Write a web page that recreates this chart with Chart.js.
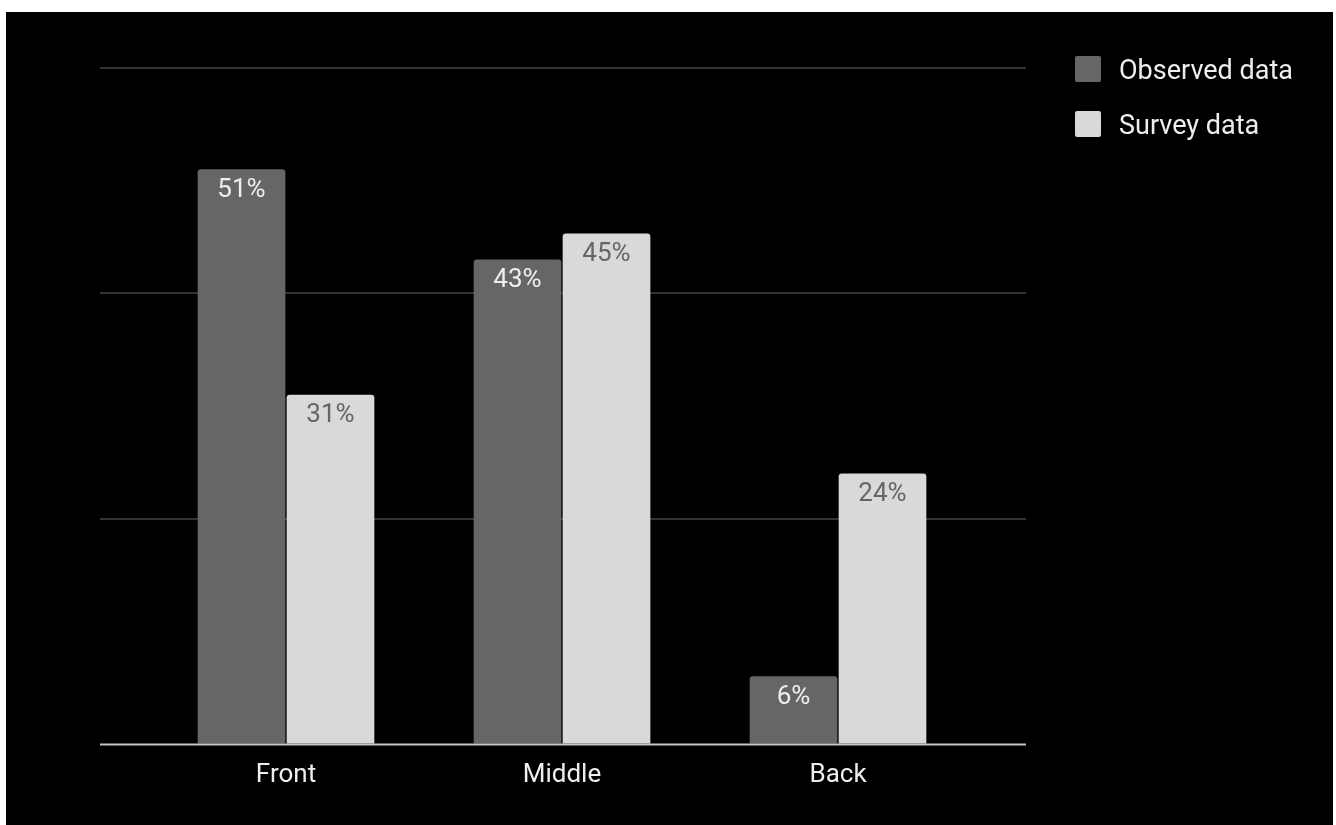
<!DOCTYPE html>
<html>
<head>
<meta charset="utf-8">
<title>Observed vs survey data</title>
<script src="https://cdn.jsdelivr.net/npm/chart.js@4.4.1/dist/chart.umd.min.js"></script>
<style>
  html, body { margin: 0; padding: 0; background: #ffffff; }
  #wrap { position: absolute; left: 6px; top: 12px; width: 1327px; height: 813px; background: #000000; }
</style>
</head>
<body>
<div id="wrap"><canvas id="chart" width="1327" height="813"></canvas></div>
<script>
// chart values
const categories = ['Front', 'Middle', 'Back'];
const seriesNames = ['Observed data', 'Survey data'];
const observedData = [51, 43, 6];
const surveyData = [31, 45.3, 24];
const yTicks = [0, 20, 40, 60];

const barColors = ['#666666', '#d9d9d9'];
const valueColors = ['#eeeeee', '#666666'];
const FONT = 'Roboto, "Noto Sans", sans-serif';

// horizontal grid lines run wider than the bar area
const gridPlugin = {
  id: 'wideGrid',
  beforeDatasetsDraw(chart) {
    const ctx = chart.ctx;
    const y = chart.scales.y;
    const left = chart.chartArea.left - 48;
    const right = chart.chartArea.right + 50;
    ctx.save();
    ctx.lineWidth = 2;
    ctx.strokeStyle = '#333333';
    yTicks.slice(1).forEach((v) => {
      const py = Math.round(y.getPixelForValue(v));
      ctx.beginPath();
      ctx.moveTo(left, py);
      ctx.lineTo(right, py);
      ctx.stroke();
    });
    ctx.restore();
  },
  afterDatasetsDraw(chart) {
    const ctx = chart.ctx;
    const y = chart.scales.y;
    const py = Math.round(y.getPixelForValue(yTicks[0])) + 0.5;
    ctx.save();
    ctx.lineWidth = 2;
    ctx.strokeStyle = '#c4c4c4';
    ctx.beginPath();
    ctx.moveTo(chart.chartArea.left - 48, py);
    ctx.lineTo(chart.chartArea.right + 50, py);
    ctx.stroke();

    // value labels inside the top of each bar
    ctx.font = '26px ' + FONT;
    ctx.textAlign = 'center';
    ctx.textBaseline = 'middle';
    chart.data.datasets.forEach((ds, i) => {
      chart.getDatasetMeta(i).data.forEach((bar, j) => {
        ctx.fillStyle = valueColors[i];
        ctx.fillText(Math.round(ds.data[j]) + '%', bar.x, bar.y + 21);
      });
    });
    ctx.restore();
  },
  afterDraw(chart) {
    // legend at the top right
    const ctx = chart.ctx;
    ctx.save();
    ctx.font = '27px ' + FONT;
    ctx.textBaseline = 'middle';
    ctx.textAlign = 'left';
    chart.data.datasets.forEach((ds, i) => {
      const bx = 1069;
      const by = 44 + i * 55;
      ctx.fillStyle = ds.backgroundColor;
      ctx.beginPath();
      ctx.roundRect(bx, by, 26, 26, 2);
      ctx.fill();
      ctx.fillStyle = '#eeeeee';
      ctx.fillText(ds.label, bx + 44, by + 16);
    });
    ctx.restore();
  }
};

const chart = new Chart(document.getElementById('chart'), {
  type: 'bar',
  data: {
    labels: categories,
    datasets: [
      {
        label: seriesNames[0],
        data: observedData,
        backgroundColor: barColors[0],
        borderRadius: { topLeft: 3, topRight: 3 },
        borderSkipped: 'bottom',
      },
      {
        label: seriesNames[1],
        data: surveyData,
        backgroundColor: barColors[1],
        borderRadius: { topLeft: 3, topRight: 3 },
        borderSkipped: 'bottom',
      },
    ],
  },
  options: {
    responsive: false,
    animation: false,
    layout: {
      padding: { left: 142, right: 357, top: 56, bottom: 18 },
    },
    datasets: {
      bar: { categoryPercentage: 0.645, barPercentage: 0.985 },
    },
    scales: {
      x: {
        grid: { display: false, drawTicks: false },
        border: { display: false },
        ticks: { color: '#eeeeee', padding: 16, font: { family: FONT, size: 26 } },
      },
      y: {
        display: false,
        min: yTicks[0],
        max: yTicks[yTicks.length - 1],
        ticks: { stepSize: 20 },
      },
    },
    plugins: {
      legend: { display: false },
      tooltip: { enabled: false },
    },
  },
  plugins: [gridPlugin],
});
</script>
</body>
</html>
